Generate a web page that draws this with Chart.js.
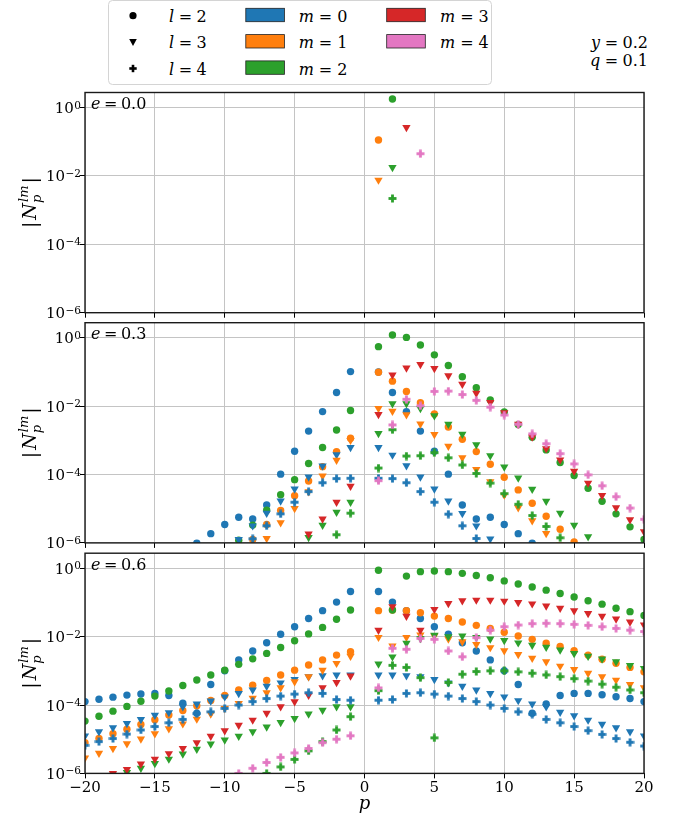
<!DOCTYPE html>
<html><head><meta charset="utf-8">
<script src="https://cdn.jsdelivr.net/npm/chart.js@4.4.0/dist/chart.umd.min.js"></script>
<style>
html,body{margin:0;padding:0;background:#fff}
body{width:687px;height:822px;position:relative;overflow:hidden}
canvas{position:absolute;left:0}
svg{position:absolute;left:0;top:0}
</style></head><body>
<svg width="687" height="90" font-family="DejaVu Serif" font-size="16">
<rect x="108.5" y="0.5" width="383" height="84" rx="4" fill="#fff" stroke="#d4d4d4" stroke-width="1"/>
<circle cx="133" cy="15.7" r="3.6" fill="#000"/>
<polygon points="129.2,39 136.8,39 133,46" fill="#000"/>
<rect x="131.7" y="64.8" width="2.6" height="7.4" fill="#000"/><rect x="129.3" y="67.2" width="7.4" height="2.6" fill="#000"/>
<text x="169" y="21.5"><tspan font-style="italic">l</tspan><tspan dx="4.5">=</tspan><tspan dx="4.5">2</tspan></text>
<text x="169" y="48"><tspan font-style="italic">l</tspan><tspan dx="4.5">=</tspan><tspan dx="4.5">3</tspan></text>
<text x="169" y="74.7"><tspan font-style="italic">l</tspan><tspan dx="4.5">=</tspan><tspan dx="4.5">4</tspan></text>
<rect x="245.8" y="8.3" width="38.6" height="13.4" fill="#1f77b4" stroke="#222" stroke-width="0.8"/>
<rect x="245.8" y="34.6" width="38.6" height="13.4" fill="#ff7f0e" stroke="#222" stroke-width="0.8"/>
<rect x="245.8" y="60.9" width="38.6" height="13.4" fill="#2ca02c" stroke="#222" stroke-width="0.8"/>
<rect x="386.7" y="8.3" width="38.6" height="13.4" fill="#d62728" stroke="#222" stroke-width="0.8"/>
<rect x="386.7" y="34.6" width="38.6" height="13.4" fill="#e377c2" stroke="#222" stroke-width="0.8"/>
<text x="298.7" y="21.5"><tspan font-style="italic">m</tspan><tspan dx="5">=</tspan><tspan dx="5">0</tspan></text>
<text x="298.7" y="48"><tspan font-style="italic">m</tspan><tspan dx="5">=</tspan><tspan dx="5">1</tspan></text>
<text x="298.7" y="74.7"><tspan font-style="italic">m</tspan><tspan dx="5">=</tspan><tspan dx="5">2</tspan></text>
<text x="440" y="21.5"><tspan font-style="italic">m</tspan><tspan dx="5">=</tspan><tspan dx="5">3</tspan></text>
<text x="440" y="48"><tspan font-style="italic">m</tspan><tspan dx="5">=</tspan><tspan dx="5">4</tspan></text>
<text x="648" y="48" text-anchor="end"><tspan font-style="italic">y</tspan><tspan dx="4.5">=</tspan><tspan dx="4.5">0.2</tspan></text>
<text x="648" y="66" text-anchor="end"><tspan font-style="italic">q</tspan><tspan dx="4.5">=</tspan><tspan dx="4.5">0.1</tspan></text>
</svg>
<canvas id="c1" width="687" height="242" style="top:80px"></canvas>
<canvas id="c2" width="687" height="243" style="top:310px"></canvas>
<canvas id="c3" width="687" height="281" style="top:541px"></canvas>
<script>
const _ = null;
// harmonic index p (p = 0 is not plotted)
const P = [-20,-19,-18,-17,-16,-15,-14,-13,-12,-11,-10,-9,-8,-7,-6,-5,-4,-3,-2,-1,
           1,2,3,4,5,6,7,8,9,10,11,12,13,14,15,16,17,18,19,20];
const X_TICKS = [-20,-15,-10,-5,0,5,10,15,20];
const Y_TICKS = [1e-6,1e-4,1e-2,1];
const E_LABELS = ['0.0','0.3','0.6'];

// values are log10 |N_p^{lm}|, one entry per p in P
// ---- e = 0.0 ----
const E00_L2M0 = [_,_,_,_,_,_,_,_,_,_,_,_,_,_,_,_,_,_,_,_, _,_,_,_,_,_,_,_,_,_,_,_,_,_,_,_,_,_,_,_];
const E00_L2M1 = [_,_,_,_,_,_,_,_,_,_,_,_,_,_,_,_,_,_,_,_, -0.95,_,_,_,_,_,_,_,_,_,_,_,_,_,_,_,_,_,_,_];
const E00_L2M2 = [_,_,_,_,_,_,_,_,_,_,_,_,_,_,_,_,_,_,_,_, _,0.25,_,_,_,_,_,_,_,_,_,_,_,_,_,_,_,_,_,_];
const E00_L3M0 = [_,_,_,_,_,_,_,_,_,_,_,_,_,_,_,_,_,_,_,_, _,_,_,_,_,_,_,_,_,_,_,_,_,_,_,_,_,_,_,_];
const E00_L3M1 = [_,_,_,_,_,_,_,_,_,_,_,_,_,_,_,_,_,_,_,_, -2.12,_,_,_,_,_,_,_,_,_,_,_,_,_,_,_,_,_,_,_];
const E00_L3M2 = [_,_,_,_,_,_,_,_,_,_,_,_,_,_,_,_,_,_,_,_, _,-1.75,_,_,_,_,_,_,_,_,_,_,_,_,_,_,_,_,_,_];
const E00_L3M3 = [_,_,_,_,_,_,_,_,_,_,_,_,_,_,_,_,_,_,_,_, _,_,-0.58,_,_,_,_,_,_,_,_,_,_,_,_,_,_,_,_,_];
const E00_L4M0 = [_,_,_,_,_,_,_,_,_,_,_,_,_,_,_,_,_,_,_,_, _,_,_,_,_,_,_,_,_,_,_,_,_,_,_,_,_,_,_,_];
const E00_L4M2 = [_,_,_,_,_,_,_,_,_,_,_,_,_,_,_,_,_,_,_,_, _,-2.66,_,_,_,_,_,_,_,_,_,_,_,_,_,_,_,_,_,_];
const E00_L4M4 = [_,_,_,_,_,_,_,_,_,_,_,_,_,_,_,_,_,_,_,_, _,_,_,-1.35,_,_,_,_,_,_,_,_,_,_,_,_,_,_,_,_];

// ---- e = 0.3 ----
const E03_L2M0 = [_,_,_,_,_,_,_,_,-6.01,-5.73,-5.46,-5.25,-5.3,-4.89,-3.99,-3.32,-2.73,-2.16,-1.6,-0.99,
  -1.0,-1.6,-2.16,-2.73,-3.32,-3.99,-4.89,-5.3,-5.25,-5.46,-5.73,-6.01,_,_,_,_,_,_,_,_];
const E03_L2M1 = [_,_,_,_,_,_,_,_,_,_,_,_,-5.9,-5.46,-5.05,-4.62,-4.19,-3.77,-3.33,-2.94,
  -1.01,-1.27,-1.57,-1.9,-2.23,-2.61,-2.97,-3.33,-3.7,-4.08,-4.45,-4.84,-5.22,-5.6,-5.97,_,_,_,_,_];
const E03_L2M2 = [_,_,_,_,_,_,_,_,_,_,_,-5.92,-5.48,-5.04,-4.59,-4.15,-3.68,-3.21,-2.7,-2.13,
  -0.26,0.08,0.01,-0.21,-0.5,-0.81,-1.14,-1.46,-1.82,-2.17,-2.54,-2.91,-3.28,-3.65,-4.03,-4.4,-4.78,-5.15,-5.53,-5.9];
const E03_L3M0 = [_,_,_,_,_,_,_,_,_,_,_,-5.9,-5.5,-5.13,-4.77,-4.42,-4.07,-3.75,-3.42,-3.21,
  -3.21,-3.43,-3.74,-4.07,-4.42,-4.77,-5.14,-5.5,-5.88,_,_,_,_,_,_,_,_,_,_,_];
const E03_L3M1 = [_,_,_,_,_,_,_,_,_,_,_,_,_,-5.87,-5.41,-4.99,-4.5,-4.04,-3.58,-3.0,
  -2.07,-2.15,-2.25,-2.52,-2.83,-3.17,-3.51,-3.85,-4.21,-4.6,-4.97,-5.35,-5.72,-6.06,_,_,_,_,_,_];
const E03_L3M2 = [_,_,_,_,_,_,_,_,_,_,_,_,_,_,_,_,-5.84,-5.48,-5.1,-4.81,
  -2.8,-1.93,-1.93,-2.07,-2.28,-2.53,-2.82,-3.13,-3.45,-3.78,-4.1,-4.43,-4.78,-5.13,-5.48,-5.82,_,_,_,_];
const E03_L3M3 = [_,_,_,_,_,_,_,_,_,_,_,_,_,_,_,_,-5.74,-5.3,-4.81,-4.34,
  -2.24,-1.09,-0.88,-0.78,-0.9,-1.11,-1.36,-1.62,-1.89,-2.19,-2.53,-2.9,-3.24,-3.57,-3.9,-4.25,-4.61,-4.97,-5.32,-5.67];
const E03_L4M0 = [_,_,_,_,_,_,_,_,_,_,_,_,-5.88,-5.5,-5.15,-4.81,-4.5,-4.24,-4.12,-4.11,
  -4.11,-4.12,-4.24,-4.5,-4.81,-5.16,-5.5,-5.87,_,_,_,_,_,_,_,_,_,_,_,_];
const E03_L4M2 = [_,_,_,_,_,_,_,_,_,_,_,_,_,_,_,_,_,_,-5.76,-5.13,
  -3.81,-2.69,-3.46,-3.45,-3.36,-3.51,-3.72,-3.97,-4.25,-4.56,-4.87,-5.2,-5.52,-5.85,_,_,_,_,_,_];
const E03_L4M4 = [_,_,_,_,_,_,_,_,_,_,_,_,_,_,_,_,_,_,_,_,
  -4.18,-2.55,-1.8,-1.99,-1.57,-1.56,-1.66,-1.83,-2.03,-2.26,-2.53,-2.81,-3.1,-3.39,-3.69,-4.01,-4.33,-4.65,-4.98,-5.31];

// ---- e = 0.6 ----
const E06_L2M0 = [-3.9,-3.83,-3.77,-3.71,-3.68,-3.66,-3.72,-3.95,-4.24,-3.4,-3.0,-2.68,-2.42,-2.18,-1.93,-1.71,-1.47,-1.24,-0.99,-0.68,
  -0.68,-0.99,-1.24,-1.47,-1.71,-1.93,-2.18,-2.42,-2.68,-3.0,-3.4,-4.24,-3.97,-3.72,-3.66,-3.66,-3.7,-3.76,-3.81,-3.9];
const E06_L2M1 = [-5.1,-4.98,-4.84,-4.71,-4.57,-4.43,-4.29,-4.16,-4.02,-3.87,-3.72,-3.56,-3.42,-3.28,-3.12,-2.98,-2.83,-2.68,-2.54,-2.44,
  -1.24,-1.22,-1.24,-1.3,-1.4,-1.47,-1.57,-1.67,-1.76,-1.87,-1.98,-2.08,-2.19,-2.29,-2.41,-2.54,-2.66,-2.78,-2.9,-3.03];
const E06_L2M2 = [-4.47,-4.33,-4.18,-4.04,-3.89,-3.74,-3.59,-3.43,-3.27,-3.12,-2.98,-2.81,-2.65,-2.49,-2.32,-2.12,-1.92,-1.73,-1.49,-1.22,
  -0.06,-1.22,-0.23,-0.1,-0.08,-0.1,-0.15,-0.21,-0.28,-0.37,-0.46,-0.55,-0.64,-0.74,-0.84,-0.95,-1.05,-1.17,-1.27,-1.38];
const E06_L3M0 = [-4.9,-4.78,-4.66,-4.54,-4.42,-4.3,-4.22,-4.05,-3.97,-3.88,-3.76,-3.66,-3.56,-3.45,-3.35,-3.25,-3.17,-3.14,-3.12,-3.12,
  -3.12,-3.12,-3.14,-3.17,-3.25,-3.35,-3.45,-3.56,-3.66,-3.76,-3.87,-3.97,-4.05,-4.21,-4.31,-4.44,-4.56,-4.66,-4.78,-4.9];
const E06_L3M1 = [-5.55,-5.41,-5.27,-5.13,-4.99,-4.84,-4.69,-4.55,-4.41,-4.26,-4.1,-3.95,-3.8,-3.64,-3.49,-3.32,-3.17,-2.98,-2.78,-2.57,
  -2.02,-2.27,-2.02,-1.95,-1.98,-2.07,-2.15,-2.23,-2.32,-2.41,-2.52,-2.63,-2.73,-2.86,-2.96,-3.07,-3.17,-3.27,-3.4,-3.49];
const E06_L3M2 = [_,_,-6.05,-5.97,-5.85,-5.71,-5.58,-5.43,-5.29,-5.14,-5.02,-4.91,-4.78,-4.64,-4.51,-4.39,-4.26,-4.15,-4.05,-4.05,
  -2.8,-2.59,-2.19,-2.05,-1.96,-2.0,-1.98,-2.02,-2.07,-2.11,-2.18,-2.25,-2.31,-2.39,-2.49,-2.57,-2.65,-2.73,-2.84,-2.93];
const E06_L3M3 = [_,_,-6.0,-5.88,-5.72,-5.58,-5.42,-5.27,-5.1,-4.91,-4.75,-4.59,-4.44,-4.24,-4.05,-3.9,-3.71,-3.49,-3.34,-3.15,
  -1.81,-1.12,-1.4,-1.81,-1.2,-1.03,-0.95,-0.93,-0.93,-0.96,-1.0,-1.04,-1.1,-1.17,-1.24,-1.32,-1.4,-1.48,-1.57,-1.66];
const E06_L4M0 = [-5.18,-5.07,-4.98,-4.85,-4.73,-4.63,-4.52,-4.42,-4.25,-4.2,-4.1,-4.0,-3.9,-3.81,-3.74,-3.68,-3.64,-3.66,-3.84,-3.86,
  -3.86,-3.84,-3.66,-3.64,-3.68,-3.74,-3.81,-3.9,-4.0,-4.1,-4.2,-4.27,-4.42,-4.52,-4.63,-4.75,-4.86,-4.98,-5.09,-5.2];
const E06_L4M2 = [_,_,_,_,_,_,_,_,_,_,_,_,_,-6.0,-5.81,-5.59,-5.34,-5.07,-4.73,-4.34,
  -3.58,-2.84,-2.9,-3.2,-4.96,-3.34,-3.1,-3.02,-3.0,-3.0,-3.03,-3.07,-3.12,-3.17,-3.23,-3.3,-3.39,-3.48,-3.56,-3.64];
const E06_L4M4 = [_,_,_,_,_,_,_,_,_,_,_,-6.0,-5.85,-5.68,-5.53,-5.4,-5.27,-5.1,-5.0,-4.9,
  -3.5,-2.34,-2.37,-2.05,-2.08,-2.42,-2.59,-2.03,-1.81,-1.71,-1.66,-1.62,-1.61,-1.62,-1.64,-1.67,-1.71,-1.76,-1.81,-1.85];

const PANELS = [
  [[E00_L2M0,2,0],[E00_L2M1,2,1],[E00_L2M2,2,2],[E00_L3M0,3,0],[E00_L3M1,3,1],[E00_L3M2,3,2],[E00_L3M3,3,3],[E00_L4M0,4,0],[E00_L4M2,4,2],[E00_L4M4,4,4]],
  [[E03_L2M0,2,0],[E03_L2M1,2,1],[E03_L2M2,2,2],[E03_L3M0,3,0],[E03_L3M1,3,1],[E03_L3M2,3,2],[E03_L3M3,3,3],[E03_L4M0,4,0],[E03_L4M2,4,2],[E03_L4M4,4,4]],
  [[E06_L2M0,2,0],[E06_L2M1,2,1],[E06_L2M2,2,2],[E06_L3M0,3,0],[E06_L3M1,3,1],[E06_L3M2,3,2],[E06_L3M3,3,3],[E06_L4M0,4,0],[E06_L4M2,4,2],[E06_L4M4,4,4]]
];

const COLOR = ['#1f77b4','#ff7f0e','#2ca02c','#d62728','#e377c2'];
function plusImg(color){
  const c = document.createElement('canvas'); c.width = 9; c.height = 9;
  const g = c.getContext('2d'); g.fillStyle = color;
  g.fillRect(3.1,0.5,2.8,8); g.fillRect(0.5,3.1,8,2.8);
  return c;
}
const PLUS = COLOR.map(plusImg);

function makeDatasets(series){
  const n = series.length;
  return series.map(([vals,l,m],i) => {
    const data = [];
    for (let j = 0; j < P.length; j++) if (vals[j] !== null) data.push({x:P[j], y:Math.pow(10, vals[j])});
    const c = COLOR[m];
    const d = {data, pointBackgroundColor:c, pointBorderColor:c, pointBorderWidth:0,
               showLine:false, clip:0, order:n - i, pointHoverRadius:0};
    if (l === 2) { d.pointStyle = 'circle'; d.pointRadius = 3.7; }
    else if (l === 3) { d.pointStyle = 'triangle'; d.pointRadius = 4.8; d.pointRotation = 180; }
    else { d.pointStyle = PLUS[m]; d.pointRadius = 4; }
    return d;
  });
}

const FONT = '"DejaVu Serif", serif';
const deco = {
  id: 'deco',
  afterDraw(chart, args, opts){
    const ctx = chart.ctx, a = chart.chartArea, ys = chart.scales.y, xs = chart.scales.x;
    ctx.save();
    ctx.strokeStyle = '#1a1a1a'; ctx.lineWidth = 1.4;
    ctx.strokeRect(a.left, a.top, a.right - a.left, a.bottom - a.top);
    ctx.fillStyle = '#000'; ctx.textBaseline = 'alphabetic';
    ys.ticks.forEach(t => {
      const y = ys.getPixelForValue(t.value);
      const e = Math.round(Math.log10(t.value));
      const ex = e === 0 ? '0' : '\u2212' + (-e);
      ctx.font = '10.5px ' + FONT;
      const w = ctx.measureText(ex).width;
      const xr = a.left - 4;
      ctx.textAlign = 'right';
      ctx.fillText(ex, xr, y + 1);
      ctx.font = '15px ' + FONT;
      ctx.fillText('10', xr - w - 0.5, y + 5.5);
    });
    // panel label
    ctx.textAlign = 'left';
    let lx = a.left + 6; const ly = a.top + 16.5;
    ctx.font = 'italic 16px ' + FONT; ctx.fillText('e', lx, ly); lx += ctx.measureText('e').width + 3.5;
    ctx.font = '16px ' + FONT; ctx.fillText('=', lx, ly); lx += ctx.measureText('=').width + 3.5;
    ctx.fillText(opts.label, lx, ly);
    // y title
    ctx.save();
    ctx.translate(36, (a.top + a.bottom) / 2); ctx.rotate(-Math.PI / 2);
    const big = '19px ' + FONT, bigI = 'italic 19px ' + FONT, smI = 'italic 13px ' + FONT;
    ctx.font = big; const wBar = ctx.measureText('|').width;
    ctx.font = bigI; const wN = ctx.measureText('N').width;
    ctx.font = smI; const wSup = ctx.measureText('lm').width, wSub = ctx.measureText('p').width;
    const gap = 2;
    const total = wBar + gap + wN + 1 + Math.max(wSup, wSub) + gap + wBar;
    let x = -total / 2;
    ctx.font = big; ctx.fillText('|', x, 0); x += wBar + gap;
    ctx.font = bigI; ctx.fillText('N', x, 0); x += wN + 1;
    ctx.font = smI; ctx.fillText('lm', x, -8); ctx.fillText('p', x - 1, 5); x += Math.max(wSup, wSub) + gap;
    ctx.font = big; ctx.fillText('|', x, 0);
    ctx.restore();
    if (opts.xlabels) {
      ctx.font = '15px ' + FONT; ctx.textAlign = 'center';
      xs.ticks.forEach(t => {
        const px = xs.getPixelForValue(t.value);
        const s = t.value < 0 ? '\u2212' + (-t.value) : String(t.value);
        ctx.fillText(s, px, a.bottom + 18.3);
      });
      ctx.font = 'italic 18px ' + FONT;
      ctx.fillText('p', (a.left + a.right) / 2, a.bottom + 35.5);
    }
    ctx.restore();
  }
};

const GEOM = [
  {id:'c1', h:242, padTop:12.5},
  {id:'c2', h:243, padTop:12.7},
  {id:'c3', h:281, padTop:12.2}
];
const PLOT_H = 220.2;

GEOM.forEach((g, k) => {
  const xH = g.h - g.padTop - PLOT_H;
  new Chart(document.getElementById(g.id), {
    type: 'scatter',
    data: { datasets: makeDatasets(PANELS[k]) },
    options: {
      responsive: false, animation: false, devicePixelRatio: 1, events: [],
      layout: { padding: { top: g.padTop, left: 0, right: 43, bottom: 0 } },
      plugins: { legend: {display:false}, tooltip: {enabled:false},
                 deco: { label: E_LABELS[k], xlabels: k === 2 } },
      scales: {
        x: {
          type: 'linear', min: -20, max: 20,
          afterBuildTicks: s => { s.ticks = X_TICKS.map(v => ({value:v})); },
          ticks: { display: false },
          grid: { color:'#c4c4c4', lineWidth:1, drawTicks:true, tickLength:5, tickColor:'#000', tickWidth:1 },
          border: { display:false },
          afterFit: s => { s.height = xH; }
        },
        y: {
          type: 'logarithmic', min: 1e-6, max: Math.pow(10, 0.44),
          afterBuildTicks: s => { s.ticks = Y_TICKS.map(v => ({value:v})); },
          ticks: { display: false },
          grid: { color:'#c4c4c4', lineWidth:1, drawTicks:true, tickLength:5, tickColor:'#000', tickWidth:1 },
          border: { display:false },
          afterFit: s => { s.width = 85; }
        }
      }
    },
    plugins: [deco]
  });
});
</script>
</body></html>
